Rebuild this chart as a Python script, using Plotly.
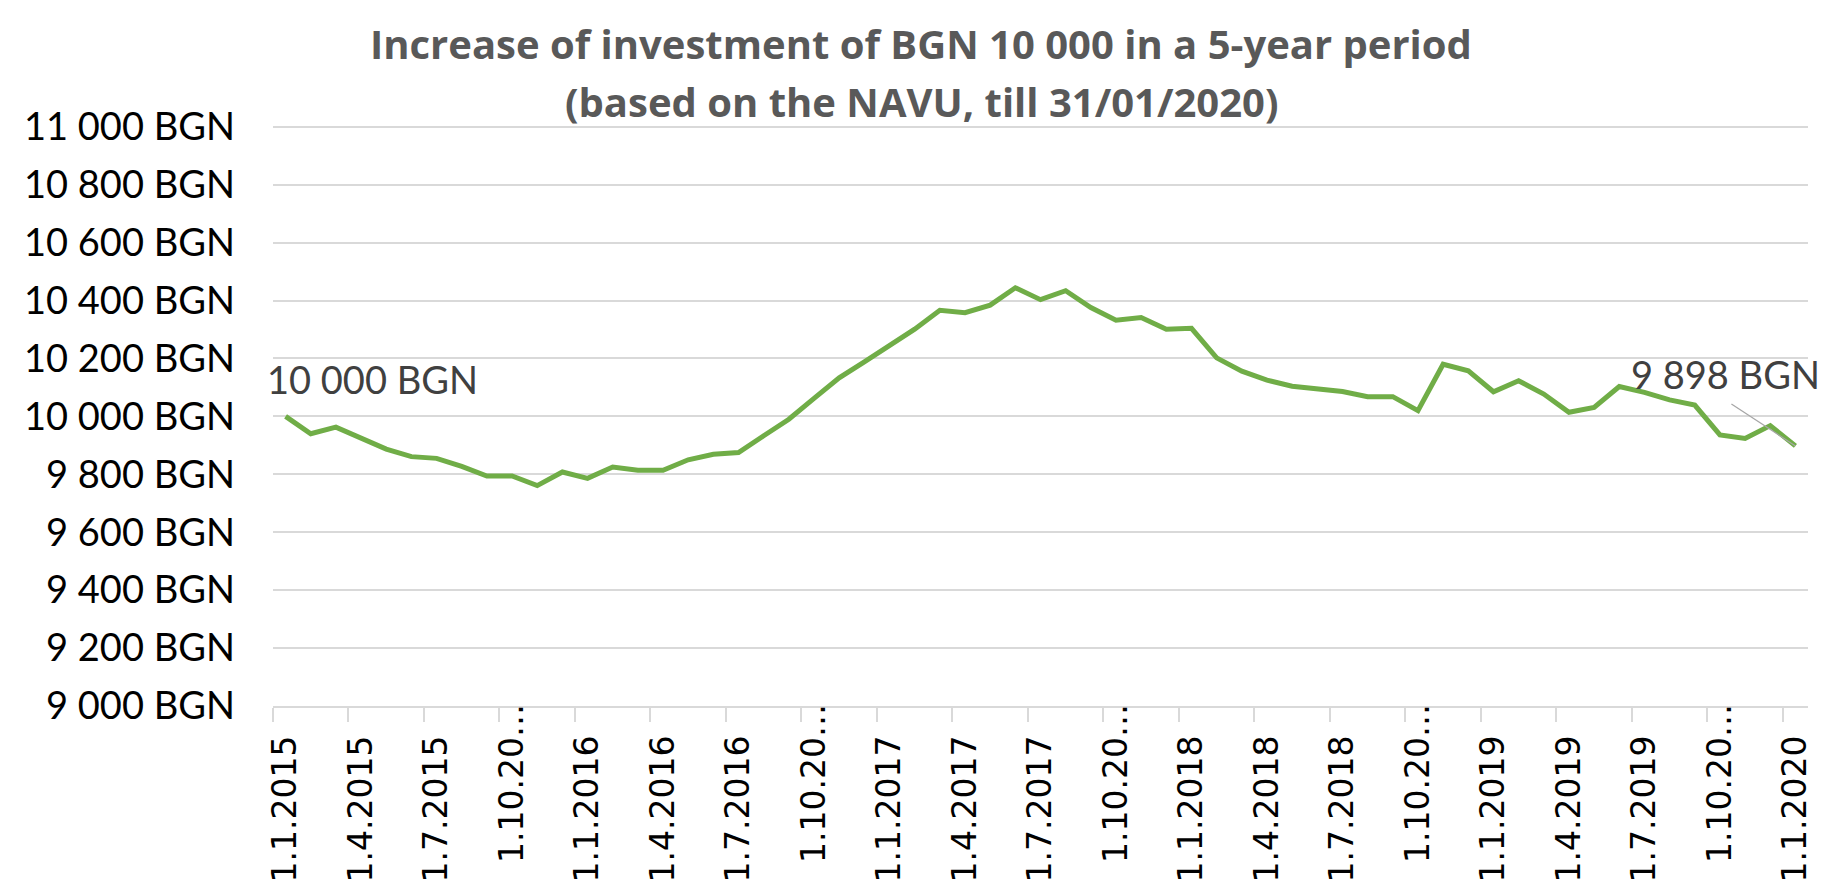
import plotly.graph_objects as go

# Months 1.1.2015 .. 1.1.2020 (61 monthly categories)
months = [f"1.{m}.{y}" for y in range(2015, 2020) for m in range(1, 13)] + ["1.1.2020"]

values = [
    10000, 9940, 9963, 9925, 9887, 9861, 9855, 9827, 9794, 9794,
    9761, 9808, 9786, 9825, 9814, 9814, 9850, 9869, 9875, 9933,
    9990, 10062, 10133, 10188, 10243, 10301, 10366, 10358, 10384, 10444,
    10403, 10434, 10376, 10332, 10341, 10301, 10304, 10202, 10156, 10125,
    10104, 10097, 10086, 10068, 10068, 10020, 10180, 10157, 10085, 10123,
    10077, 10014, 10031, 10103, 10083, 10057, 10039, 9936, 9924, 9968,
    9898,
]

x_tick_labels = [
    "1.1.2015", "1.4.2015", "1.7.2015", "1.10.20…", "1.1.2016", "1.4.2016", "1.7.2016",
    "1.10.20…", "1.1.2017", "1.4.2017", "1.7.2017", "1.10.20…", "1.1.2018", "1.4.2018",
    "1.7.2018", "1.10.20…", "1.1.2019", "1.4.2019", "1.7.2019", "1.10.20…", "1.1.2020",
]

y_tick_values = [9000, 9200, 9400, 9600, 9800, 10000, 10200, 10400, 10600, 10800, 11000]
y_tick_labels = ["9 000 BGN", "9 200 BGN", "9 400 BGN", "9 600 BGN", "9 800 BGN", "10 000 BGN",
                 "10 200 BGN", "10 400 BGN", "10 600 BGN", "10 800 BGN", "11 000 BGN"]

title_lines = ["Increase of investment of BGN 10 000 in a 5-year period",
               "(based on the NAVU, till 31/01/2020)"]
first_label = "10 000 BGN"
last_label = "9 898 BGN"

idx = list(range(len(values)))
tick_idx = idx[::3]
# Excel shows untruncated labels pushed slightly away from the axis
tick_text = [t if t.endswith("…") else t + "\u00a0" * 3 for t in x_tick_labels]

fig = go.Figure()
fig.add_trace(go.Scatter(
    x=idx, y=values, mode="lines", customdata=months,
    line=dict(color="#70ad47", width=5),
    hovertemplate="%{customdata}: %{y}<extra></extra>",
))

fig.update_layout(
    width=1846, height=880,
    margin=dict(l=273, r=38, t=125, b=174),
    paper_bgcolor="white", plot_bgcolor="white",
    showlegend=False,
    font=dict(family="Lato, Arial, sans-serif"),
)

fig.update_xaxes(
    range=[-0.5, 60.5],
    tickmode="array", tickvals=tick_idx, ticktext=tick_text,
    tickangle=-90, ticks="",
    tickfont=dict(family="DejaVu Sans", size=33, color="#000000"),
    ticklabelstandoff=-17,
    showgrid=False, zeroline=False,
    showline=True, linecolor="#d9d9d9", linewidth=1.5,
    minor=dict(tick0=-0.5, dtick=3, ticks="outside", ticklen=14,
               tickcolor="#d9d9d9", tickwidth=1.5, showgrid=False),
    automargin=False,
)

fig.update_yaxes(
    range=[9000, 11006],
    tickmode="array", tickvals=y_tick_values, ticktext=y_tick_labels,
    tickfont=dict(family="Lato", size=38, color="#000000"),
    showgrid=True, gridcolor="#d9d9d9", gridwidth=1.5,
    zeroline=False, showline=False, ticks="",
    ticklabelstandoff=37,
    automargin=False,
)

fig.add_annotation(xref="paper", yref="paper", x=0.4222, y=1.1411, xanchor="center", yanchor="middle",
                   text=f"<b>{title_lines[0]}</b>", showarrow=False,
                   font=dict(family="Open Sans", size=40, color="#595959"))
fig.add_annotation(xref="paper", yref="paper", x=0.4222, y=1.0396, xanchor="center", yanchor="middle",
                   text=f"<b>{title_lines[1]}</b>", showarrow=False,
                   font=dict(family="Open Sans", size=40, color="#595959"))

fig.add_annotation(x=idx[0], y=values[0], text=first_label, showarrow=False,
                   xanchor="left", yanchor="middle", xshift=-21, yshift=37,
                   font=dict(family="Lato", size=38, color="#404040"))
fig.add_annotation(x=idx[-1], y=values[-1], text=last_label, showarrow=False,
                   xanchor="right", yanchor="middle", xshift=27, yshift=72,
                   font=dict(family="Lato", size=38, color="#404040"))
fig.add_shape(type="line", xref="x", yref="y", xsizemode="pixel", ysizemode="pixel",
              xanchor=idx[-1], yanchor=values[-1], x0=-64, y0=42, x1=0, y1=0,
              line=dict(color="#a6a6a6", width=1.2))

fig.write_html("out.html", config={"displayModeBar": False},
               post_script="document.body.style.margin='0';")
